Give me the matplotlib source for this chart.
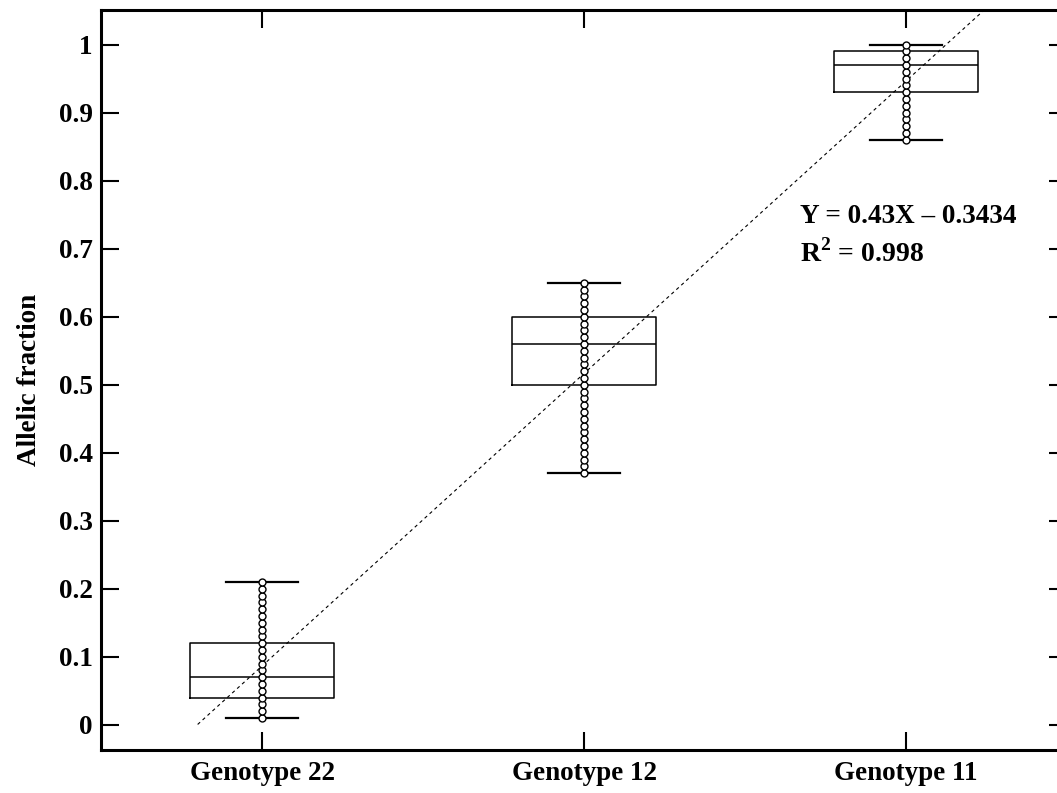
import matplotlib.pyplot as plt

plt.rcParams['font.family'] = ['Liberation Serif', 'DejaVu Serif']
plt.rcParams['font.weight'] = 'bold'
plt.rcParams['mathtext.fontset'] = 'custom'
plt.rcParams['mathtext.bf'] = 'Liberation Serif:bold'
plt.rcParams['mathtext.rm'] = 'Liberation Serif:bold'

# Data
genotypes = ['Genotype 22', 'Genotype 12', 'Genotype 11']
g22 = [0.01, 0.02, 0.03, 0.04, 0.05, 0.06, 0.07, 0.08, 0.09, 0.10, 0.11,
       0.12, 0.13, 0.14, 0.15, 0.16, 0.17, 0.18, 0.19, 0.20, 0.21]
g12 = [0.37, 0.38, 0.39, 0.40, 0.41, 0.42, 0.43, 0.44, 0.45, 0.46, 0.47,
       0.48, 0.49, 0.50, 0.51, 0.52, 0.53, 0.54, 0.55, 0.56, 0.57, 0.58,
       0.59, 0.60, 0.61, 0.62, 0.63, 0.64, 0.65]
g11 = [0.86, 0.87, 0.88, 0.89, 0.90, 0.91, 0.92, 0.93, 0.94, 0.95, 0.96,
       0.97, 0.98, 0.99, 1.00]

q1 = [0.04, 0.50, 0.93]
med = [0.07, 0.56, 0.97]
q3 = [0.12, 0.60, 0.99]
wlo = [0.01, 0.37, 0.86]
whi = [0.21, 0.65, 1.00]

slope = 0.43
intercept = -0.3434
r2 = 0.998
fit_x = [0.8, 3.4]

yticks = [0, 0.1, 0.2, 0.3, 0.4, 0.5, 0.6, 0.7, 0.8, 0.9, 1.0]
ytick_labels = ['0', '0.1', '0.2', '0.3', '0.4', '0.5', '0.6', '0.7', '0.8', '0.9', '1']

fig = plt.figure(figsize=(10.57, 7.93), dpi=100)
ax = fig.add_axes([0.0956, 0.0542, 0.9139, 0.9332])

stats = []
for i in range(3):
    stats.append({'q1': q1[i], 'med': med[i], 'q3': q3[i],
                  'whislo': wlo[i], 'whishi': whi[i], 'fliers': []})
ax.bxp(stats, positions=[1, 2, 3], widths=0.45, capwidths=0.225,
       boxprops=dict(color='black', linewidth=1.1),
       medianprops=dict(color='black', linewidth=1.1),
       whiskerprops=dict(color='black', linewidth=1.1),
       capprops=dict(color='black', linewidth=1.6))

for pos, vals in zip([1, 2, 3], [g22, g12, g11]):
    ax.plot([pos] * len(vals), vals, 'o', ms=5, mfc='white', mec='black',
            mew=1.0, zorder=3)

fit_y = [slope * x + intercept for x in fit_x]
ax.plot(fit_x, fit_y, color='black', lw=0.8, ls=(0, (3, 3)), zorder=2)

ax.text(2.67, 0.748, 'Y = 0.43X \u2013 0.3434', fontsize=19.5, fontweight='bold',
        va='center', ha='left')
ax.text(2.67, 0.693, r'R$^{\mathbf{2}}$ = %.3f' % r2, fontsize=20, fontweight='bold',
        va='center', ha='left')

ax.set_xlim(0.5, 3.5)
ax.set_ylim(-0.037, 1.051)
ax.set_xticks([1, 2, 3])
ax.set_xticklabels(genotypes, fontsize=19.5, fontweight='bold')
ax.set_yticks(yticks)
ax.set_yticklabels(ytick_labels, fontsize=19.5, fontweight='bold')
ax.set_ylabel('Allelic fraction', fontsize=19.5, fontweight='bold', labelpad=12)

ax.tick_params(direction='in', length=13, width=1.5, top=True, right=True)
ax.tick_params(axis='x', pad=8)
ax.tick_params(axis='y', pad=6)
for s in ax.spines.values():
    s.set_linewidth(2.2)

fig.savefig('out.png', dpi=100)
